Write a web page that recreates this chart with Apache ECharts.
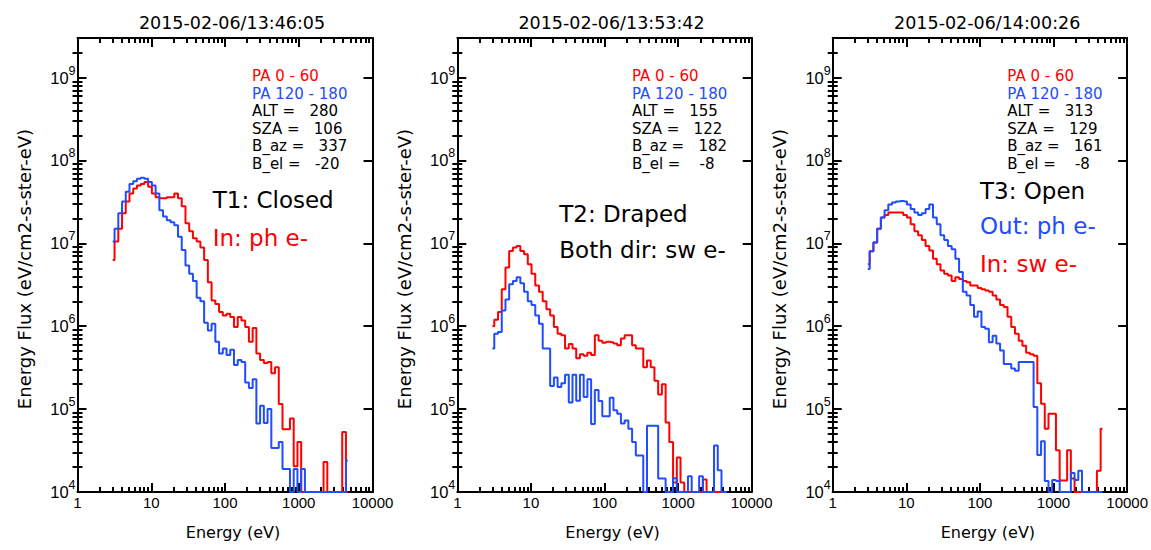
<!DOCTYPE html>
<html>
<head>
<meta charset="utf-8">
<script src="https://cdn.jsdelivr.net/npm/echarts@6/dist/echarts.min.js"></script>
<style>
html,body{margin:0;padding:0;background:#fff;}
#c{width:1151px;height:550px;}
</style>
</head>
<body>
<div id="c"></div>
<script>
// ---- data -------------------------------------------------------------
const energy = [3.00, 3.37, 3.79, 4.26, 4.78, 5.37, 6.04, 6.78, 7.62, 8.56, 9.62, 10.81, 12.15, 13.65, 15.33, 17.23,
  19.36, 21.75, 24.44, 27.46, 30.85, 34.66, 38.95, 43.76, 49.17, 55.25, 62.07, 69.75, 78.37, 88.05, 98.93, 111.16,
  124.90, 140.33, 157.68, 177.16, 199.06, 223.66, 251.30, 282.36, 317.26, 356.47, 400.52, 450.02, 505.63, 568.12,
  638.33, 717.22, 805.86, 905.45, 1017.35, 1143.08, 1284.34, 1443.07, 1621.41, 1821.79, 2046.94, 2299.91, 2584.15,
  2903.50, 3262.33, 3665.50, 4118.51, 4627.50];

const titles = ['2015-02-06/13:46:05', '2015-02-06/13:53:42', '2015-02-06/14:00:26'];
const seriesNames = ['PA 0 - 60', 'PA 120 - 180'];
const xTickLabels = ['1', '10', '100', '1000', '10000'];
const yTickExponents = [4, 5, 6, 7, 8, 9];

const p1Red = [6.3e6, 1.05e7, 1.5e7, 2.3e7, 3.2e7, 4.0e7, 4.6e7, 5.0e7, 5.2e7, 5.5e7, 4.8e7, 4.0e7, 3.6e7, 3.5e7, 3.5e7, 3.6e7,
  3.6e7, 4.0e7, 3.5e7, 2.8e7, 1.75e7, 1.4e7, 1.15e7, 1.05e7, 8.9e6, 6.3e6, 3.4e6, 2.05e6, 1.86e6, 1.48e6, 1.35e6, 1.41e6,
  1.29e6, 9.8e5, 1.29e6, 1.17e6, 9.8e5, 6.5e5, 9.5e5, 4.7e5, 3.9e5, 3.6e5, 3.7e5, 2.7e5, 3.2e5, 1.15e5,
  5.7e4, 5.7e4, 7.7e4, 2.05e4, 4.0e4, 1e4, 1e4, 1e4, 1e4, 1e4, 1e4, 2.3e4, 1e4,
  1e4, 1e4, 1e4, 5.3e4, 1e4];
const p1Blue = [1.05e7, 1.5e7, 2.3e7, 3.2e7, 4.2e7, 5.2e7, 5.6e7, 6.0e7, 6.2e7, 6.0e7, 5.5e7, 5.0e7, 4.0e7, 2.5e7, 2.1e7, 1.9e7,
  1.8e7, 1.65e7, 1.2e7, 8.3e6, 5.4e6, 4.3e6, 3.5e6, 2.2e6, 2.0e6, 1.1e6, 8.9e5, 1.07e6, 6.5e5, 4.7e5, 5.4e5, 4.5e5,
  5.2e5, 3.4e5, 3.9e5, 3.7e5, 2.1e5, 1.8e5, 2.3e5, 6.7e4, 1.1e5, 6.8e4, 1.0e5, 3.4e4, 3.4e4, 4.0e4,
  1.9e4, 1.9e4, 1e4, 1.9e4, 1e4, 1.9e4, 1e4, 1e4, 1e4, 1e4, 1e4, 1e4, 1e4,
  1e4, 1e4, 1e4, 1e4, 2.4e4];

const p2Red = [1.0e6, 1.2e6, 1.48e6, 2.8e6, 5.1e6, 8.1e6, 8.9e6, 9.3e6, 8.1e6, 7.4e6, 5.6e6, 4.3e6, 3.1e6, 2.6e6, 2.0e6, 1.6e6,
  1.35e6, 9.8e5, 8.1e5, 7.8e5, 5.4e5, 6.1e5, 5.4e5, 4.1e5, 4.6e5, 4.4e5, 4.8e5, 4.5e5, 7.8e5, 6.7e5, 6.3e5, 6.5e5,
  6.4e5, 6.2e5, 5.9e5, 7.1e5, 7.8e5, 7.8e5, 5.9e5, 5.4e5, 5.4e5, 3.2e5, 3.85e5, 3.2e5, 2.2e5, 1.5e5,
  2.0e5, 6.9e4, 4.0e4, 1.3e4, 2.6e4, 1.3e4, 1e4, 1e4, 1e4, 1e4, 1e4, 1.42e4, 1e4,
  1e4, 1e4, 1e4, 1e4, 1e4];
const p2Blue = [5.4e5, 8.1e5, 8.5e5, 1.55e6, 2.1e6, 3.2e6, 3.5e6, 3.9e6, 3.3e6, 2.6e6, 2.0e6, 1.8e6, 1.35e6, 1.07e6, 5.4e5, 5.4e5,
  1.9e5, 2.4e5, 1.85e5, 2.05e5, 2.6e5, 1.2e5, 2.6e5, 1.26e5, 2.6e5, 1.4e5, 2.3e5, 6.6e4, 1.7e5, 1.25e5, 8.2e4, 8.2e4,
  1.37e5, 9.7e4, 8.8e4, 6.7e4, 7.3e4, 5.8e4, 4.0e4, 2.75e4, 2.75e4, 1e4, 6.3e4, 6.3e4, 6.3e4, 1.45e4,
  1.45e4, 1e4, 1e4, 1.47e4, 1e4, 1e4, 1e4, 1.55e4, 1e4, 1e4, 1.55e4, 1e4, 1e4,
  1e4, 3.65e4, 1.83e4, 1e4, 1e4];

const p3Red = [5.6e6, 8.0e6, 1.02e7, 1.5e7, 2.05e7, 2.2e7, 2.35e7, 2.35e7, 2.35e7, 2.35e7, 2.2e7, 2.05e7, 1.7e7, 1.4e7, 1.25e7, 1.1e7,
  9.3e6, 8.2e6, 6.5e6, 5.6e6, 4.7e6, 4.3e6, 4.1e6, 3.5e6, 3.9e6, 3.7e6, 3.5e6, 3.4e6, 3.1e6, 3.1e6, 2.9e6, 2.8e6,
  2.7e6, 2.6e6, 2.35e6, 2.1e6, 1.8e6, 1.7e6, 1.3e6, 9.8e5, 8.1e5, 6.7e5, 5.8e5, 4.8e5, 4.6e5, 4.4e5,
  2.05e5, 1.16e5, 5.8e4, 8.8e4, 8.8e4, 3.2e4, 1.38e4, 1.38e4, 3.2e4, 1.45e4, 1e4, 1e4, 1e4,
  1e4, 1e4, 1e4, 1.8e4, 5.8e4];
const p3Blue = [4.9e6, 8.0e6, 1.02e7, 1.5e7, 2.05e7, 2.5e7, 2.95e7, 3.1e7, 3.2e7, 3.25e7, 3.2e7, 2.95e7, 2.6e7, 2.35e7, 2.2e7, 2.3e7,
  2.6e7, 2.95e7, 2.05e7, 1.7e7, 1.25e7, 1.1e7, 9.3e6, 8.5e6, 6.5e6, 4.5e6, 2.6e6, 2.35e6, 1.8e6, 1.3e6, 1.5e6, 9.8e5,
  9.3e5, 6.4e5, 7.7e5, 6.2e5, 5.1e5, 3.5e5, 3.5e5, 3.1e5, 2.9e5, 3.7e5, 3.7e5, 3.7e5, 3.7e5, 1.06e5,
  2.8e4, 4.1e4, 1.36e4, 1e4, 1.4e4, 1.36e4, 1e4, 1e4, 1e4, 1.7e4, 1.4e4, 1.8e4, 1e4,
  1e4, 1e4, 1e4, 1e4, 1e4];

const p1Notes = ['ALT =   280', 'SZA =   106', 'B_az =   337', 'B_el =   -20'];
const p2Notes = ['ALT =   155', 'SZA =   122', 'B_az =   182', 'B_el =    -8'];
const p3Notes = ['ALT =   313', 'SZA =   129', 'B_az =   161', 'B_el =    -8'];
const p1Labels = ['T1: Closed', 'In: ph e-'];
const p2Labels = ['T2: Draped', 'Both dir: sw e-'];
const p3Labels = ['T3: Open', 'Out: ph e-', 'In: sw e-'];

// ---- styling / layout ----------------------------------------------------
const RED = '#ff0000';
const BLUE = '#1f4cff';
const BLACK = '#000000';
const X_MIN = 1, X_MAX = 10000, Y_MIN = 1e4, Y_MAX = 3e9;
const TOP = 38, HEIGHT = 454;

const panels = [
  {left: 77.5, width: 295, red: p1Red, blue: p1Blue, notes: p1Notes,
   labels: p1Labels, labelColors: [BLACK, RED], labelX: 135.2, labelY: [199.8, 237.5]},
  {left: 457.3, width: 294.4, red: p2Red, blue: p2Blue, notes: p2Notes,
   labels: p2Labels, labelColors: [BLACK, BLACK], labelX: 102, labelY: [213.5, 250]},
  {left: 832.7, width: 295, red: p3Red, blue: p3Blue, notes: p3Notes,
   labels: p3Labels, labelColors: [BLACK, BLUE, RED], labelX: 147.3, labelY: [191.2, 225.5, 263.7]}
];

const nb = s => s.replace(/ /g, '\u00a0');

// minor tick positions (log10 space) for decoration axes
const minorX = [];
for (let d = 0; d < 4; d++) for (let k = 2; k <= 9; k++) minorX.push(d + Math.log10(k));
const yLogMin = Math.log10(Y_MIN), yLogMax = Math.log10(Y_MAX);
const minorY = [];
for (let d = 4; d < 10; d++) for (let k = 2; k <= 9; k++) {
  const v = d + Math.log10(k);
  if (v < yLogMax) minorY.push(v);
}

const tickLine = {color: BLACK, width: 2};
const grid = [], xAxis = [], yAxis = [], series = [], title = [], graphic = [];

panels.forEach((p, gi) => {
  grid.push({left: p.left, top: TOP, width: p.width, height: HEIGHT, containLabel: false});

  // x axes: bottom major (log), bottom minor, top major, top minor
  xAxis.push({
    gridIndex: gi, type: 'log', logBase: 10, min: X_MIN, max: X_MAX, position: 'bottom',
    axisLine: {onZero: false, lineStyle: {color: BLACK, width: 2}},
    axisTick: {inside: true, length: 9, lineStyle: tickLine},
    splitLine: {show: false}, minorTick: {show: false},
    axisLabel: {
      margin: 3, color: BLACK, fontFamily: 'Liberation Sans', fontSize: 15,
      formatter: v => {
        const l = Math.log10(v), e = Math.round(l);
        return Math.abs(l - e) < 1e-6 && xTickLabels[e] !== undefined ? xTickLabels[e] : '';
      }
    },
    name: 'Energy (eV)', nameLocation: 'middle', nameGap: 32,
    nameTextStyle: {color: BLACK, fontFamily: 'DejaVu Sans', fontSize: 16, padding: [0, 0, 0, 16]}
  });
  xAxis.push({
    gridIndex: gi, type: 'value', min: 0, max: 4, position: 'bottom',
    axisLine: {show: false}, axisLabel: {show: false}, splitLine: {show: false},
    axisTick: {show: true, inside: true, length: 5, customValues: minorX, lineStyle: tickLine}
  });
  xAxis.push({
    gridIndex: gi, type: 'log', logBase: 10, min: X_MIN, max: X_MAX, position: 'top',
    axisLine: {onZero: false, lineStyle: {color: BLACK, width: 2}},
    axisTick: {inside: true, length: 9, lineStyle: tickLine},
    axisLabel: {show: false}, splitLine: {show: false}
  });
  xAxis.push({
    gridIndex: gi, type: 'value', min: 0, max: 4, position: 'top',
    axisLine: {show: false}, axisLabel: {show: false}, splitLine: {show: false},
    axisTick: {show: true, inside: true, length: 5, customValues: minorX, lineStyle: tickLine}
  });

  // y axes: left major (log), left minor, right major, right minor
  yAxis.push({
    gridIndex: gi, type: 'log', logBase: 10, min: Y_MIN, max: Y_MAX, position: 'left',
    axisLine: {onZero: false, lineStyle: {color: BLACK, width: 2}},
    axisTick: {inside: true, length: 9, lineStyle: tickLine},
    splitLine: {show: false},
    axisLabel: {
      margin: 2, color: BLACK,
      formatter: v => {
        const l = Math.log10(v), e = Math.round(l);
        if (Math.abs(l - e) > 1e-6 || yTickExponents.indexOf(e) < 0) return '';
        return '{b|10}{s|' + e + '}';
      },
      rich: {
        b: {fontFamily: 'Liberation Sans', fontSize: 16.5, lineHeight: 30, color: BLACK, verticalAlign: 'middle'},
        s: {fontFamily: 'Liberation Sans', fontSize: 12.5, lineHeight: 12, color: BLACK, verticalAlign: 'middle', padding: [0, 0, 14, 0]}
      }
    },
    name: 'Energy Flux (eV/cm2-s-ster-eV)', nameLocation: 'middle', nameGap: 44, nameRotate: 90,
    nameTextStyle: {color: BLACK, fontFamily: 'DejaVu Sans', fontSize: 18, padding: [0, 8, 0, 0]}
  });
  yAxis.push({
    gridIndex: gi, type: 'value', min: yLogMin, max: yLogMax, position: 'left',
    axisLine: {show: false}, axisLabel: {show: false}, splitLine: {show: false},
    axisTick: {show: true, inside: true, length: 5, customValues: minorY, lineStyle: tickLine}
  });
  yAxis.push({
    gridIndex: gi, type: 'log', logBase: 10, min: Y_MIN, max: Y_MAX, position: 'right',
    axisLine: {onZero: false, lineStyle: {color: BLACK, width: 2}},
    axisTick: {inside: true, length: 9, lineStyle: tickLine},
    axisLabel: {show: false}, splitLine: {show: false}
  });
  yAxis.push({
    gridIndex: gi, type: 'value', min: yLogMin, max: yLogMax, position: 'right',
    axisLine: {show: false}, axisLabel: {show: false}, splitLine: {show: false},
    axisTick: {show: true, inside: true, length: 5, customValues: minorY, lineStyle: tickLine}
  });

  [[p.red, RED, seriesNames[0]], [p.blue, BLUE, seriesNames[1]]].forEach(([vals, col, nm]) => {
    series.push({
      type: 'line', name: nm, xAxisIndex: gi * 4, yAxisIndex: gi * 4,
      data: energy.map((e, i) => [e, vals[i]]),
      step: 'middle', symbol: 'none', showSymbol: false, clip: true,
      lineStyle: {color: col, width: 2}, itemStyle: {color: col},
      emphasis: {disabled: true}, z: 3
    });
  });

  title.push({
    text: titles[gi], left: p.left + p.width / 2 + 2, top: 9, textAlign: 'center',
    textStyle: {color: BLACK, fontFamily: 'DejaVu Sans', fontSize: 17.5, fontWeight: 'normal'}
  });

  // annotation block
  const ax = p.left + 174.6;
  const noteLines = [[seriesNames[0], RED], [seriesNames[1], BLUE]].concat(p.notes.map(t => [t, BLACK]));
  noteLines.forEach(([t, col], k) => {
    graphic.push({type: 'text', x: ax, y: 76 + 17.6 * k, silent: true,
      style: {text: nb(t), fill: col, font: '15px "DejaVu Sans"', align: 'left', verticalAlign: 'middle'}});
  });
  p.labels.forEach((t, k) => {
    graphic.push({type: 'text', x: p.left + p.labelX, y: p.labelY[k], silent: true,
      style: {text: nb(t), fill: p.labelColors[k], font: '23px "DejaVu Sans"', align: 'left', verticalAlign: 'middle'}});
  });
});

const chart = echarts.init(document.getElementById('c'), null, {renderer: 'svg', width: 1151, height: 550});
chart.setOption({
  animation: false,
  backgroundColor: '#ffffff',
  title: title,
  grid: grid, xAxis: xAxis, yAxis: yAxis, series: series,
  graphic: graphic
});
</script>
</body>
</html>
